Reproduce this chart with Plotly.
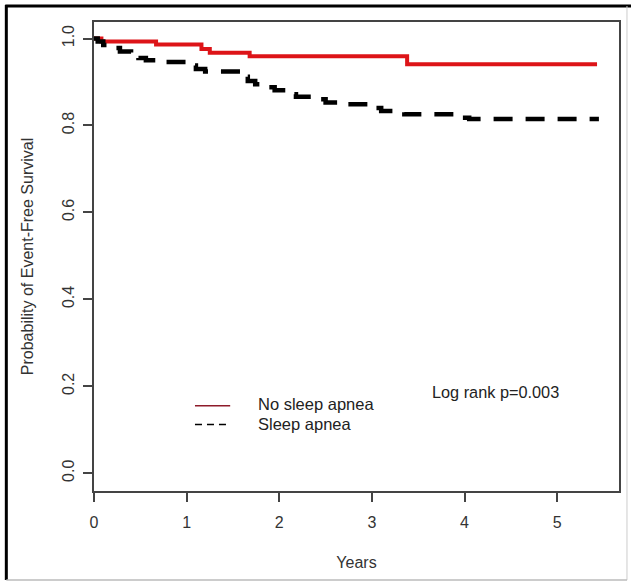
import plotly.graph_objects as go

# ---- data ----
no_apnea_t = [0.00, 0.08, 0.67, 1.16, 1.25, 1.68, 3.38, 5.43]
no_apnea_s = [1.000, 0.993, 0.986, 0.976, 0.967, 0.959, 0.941, 0.941]

apnea_t = [0.00, 0.04, 0.10, 0.18, 0.28, 0.40, 0.48, 0.56, 0.72, 1.02, 1.10, 1.20,
           1.60, 1.66, 1.74, 1.85, 1.95, 2.10, 2.18, 2.42, 2.50, 2.70, 3.00, 3.10,
           3.35, 3.95, 4.05, 5.45]
apnea_s = [1.000, 0.993, 0.985, 0.978, 0.970, 0.962, 0.955, 0.950, 0.946, 0.938, 0.930, 0.924,
           0.912, 0.902, 0.895, 0.888, 0.881, 0.872, 0.866, 0.860, 0.853, 0.849, 0.840, 0.833,
           0.826, 0.818, 0.815, 0.815]

x_ticks = [0, 1, 2, 3, 4, 5]
y_ticks = [0.0, 0.2, 0.4, 0.6, 0.8, 1.0]
y_tick_labels = ["0.0", "0.2", "0.4", "0.6", "0.8", "1.0"]

series_names = ["No sleep apnea", "Sleep apnea"]
annotation_text = "Log rank p=0.003"

FONT = "Liberation Sans, Arial, sans-serif"
RED = "#DD1418"

fig = go.Figure()
fig.add_trace(go.Scatter(x=no_apnea_t, y=no_apnea_s, mode="lines", line_shape="hv",
                         line=dict(color=RED, width=4), name=series_names[0], showlegend=False))
fig.add_trace(go.Scatter(x=apnea_t, y=apnea_s, mode="lines", line_shape="hv",
                         line=dict(color="black", width=4.5, dash="19px,13px"),
                         name=series_names[1], showlegend=False))

# manual legend (R style)
fig.add_shape(type="line", xref="x", yref="y", x0=1.09, x1=1.47, y0=0.155, y1=0.155,
              line=dict(color="#8E1B2A", width=1.5))
fig.add_shape(type="line", xref="x", yref="y", x0=1.09, x1=1.47, y0=0.112, y1=0.112,
              line=dict(color="black", width=1.5, dash="7px,5px"))
fig.add_annotation(x=1.755, y=0.159, xref="x", yref="y", text=series_names[0],
                   showarrow=False, xanchor="left", yanchor="middle", borderpad=0,
                   font=dict(family=FONT, size=16.5, color="#222"))
fig.add_annotation(x=1.755, y=0.113, xref="x", yref="y", text=series_names[1],
                   showarrow=False, xanchor="left", yanchor="middle", borderpad=0,
                   font=dict(family=FONT, size=16.5, color="#222"))
fig.add_annotation(x=3.63, y=0.187, xref="x", yref="y", text=annotation_text,
                   showarrow=False, xanchor="left", yanchor="middle",
                   font=dict(family=FONT, size=16.3, color="#222"))

# outer frame
fig.add_shape(type="line", xref="paper", yref="paper", x0=-0.167, x1=-0.167, y0=-0.19, y1=1.036,
              line=dict(color="black", width=3))
fig.add_shape(type="line", xref="paper", yref="paper", x0=-0.169, x1=1.03, y0=1.034, y1=1.034,
              line=dict(color="black", width=3))
fig.add_shape(type="line", xref="paper", yref="paper", x0=1.0152, x1=1.0152, y0=-0.19, y1=1.034,
              line=dict(color="#cccccc", width=1))
fig.add_shape(type="line", xref="paper", yref="paper", x0=-0.167, x1=1.0152, y0=-0.19, y1=-0.19,
              line=dict(color="#bbbbbb", width=1.5))

axis_common = dict(showgrid=False, zeroline=False, showline=True, linecolor="#444",
                   linewidth=1.5, mirror=True, ticks="outside", ticklen=9, tickwidth=1.5,
                   tickcolor="#444", tickfont=dict(family=FONT, size=16, color="#333"))

fig.update_layout(
    width=631, height=581,
    margin=dict(l=94, r=10, t=22, b=90),
    paper_bgcolor="white", plot_bgcolor="white",
    xaxis=dict(range=[0, 5.667], tickvals=x_ticks, ticktext=[str(v) for v in x_ticks],
               title=dict(text="Years", font=dict(family=FONT, size=16, color="#333"), standoff=27),
               ticklabelstandoff=7, **axis_common),
    yaxis=dict(range=[-0.041, 1.038], tickvals=y_ticks, ticktext=y_tick_labels, tickangle=-90,
               title=dict(text="Probability of Event-Free Survival",
                          font=dict(family=FONT, size=16, color="#333"), standoff=22),
               ticklabelstandoff=3, **axis_common),
    showlegend=False,
)

fig.write_html("out.html", config={"displayModeBar": False},
               post_script="document.body.style.margin='0';")
